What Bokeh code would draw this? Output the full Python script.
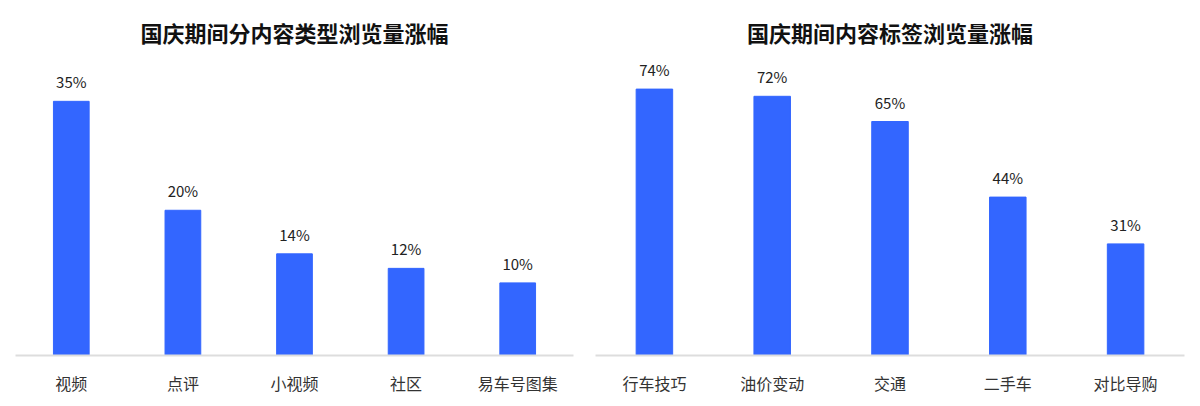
from bokeh.plotting import figure
from bokeh.layouts import row
from bokeh.models import ColumnDataSource, Range1d
from bokeh.core.properties import value
from bokeh.embed import file_html
from bokeh.resources import INLINE

title_left = "国庆期间分内容类型浏览量涨幅"
cats_left = ["视频", "点评", "小视频", "社区", "易车号图集"]
vals_left = [35, 20, 14, 12, 10]

title_right = "国庆期间内容标签浏览量涨幅"
cats_right = ["行车技巧", "油价变动", "交通", "二手车", "对比导购"]
vals_right = [74, 72, 65, 44, 31]

FONT = "Noto Sans CJK SC"
BAR = "#3366FF"


def make(title, cats, vals, ymax, width, bl, br, bw):
    src = ColumnDataSource(dict(x=cats, top=vals, lab=[f"{v}%" for v in vals]))
    p = figure(x_range=cats, y_range=Range1d(0, ymax), width=width, height=403,
               output_backend="svg", toolbar_location=None,
               min_border_left=bl, min_border_right=br, min_border_top=58,
               min_border_bottom=48)
    p.vbar(x="x", top="top", width=bw, source=src, color=BAR)
    p.text(x="x", y="top", text="lab", source=src, y_offset=-9,
           text_align="center", text_baseline="bottom",
           text_font=value(FONT), text_font_size="15px", text_color="#222222")
    p.title.text = title
    p.title.align = "center"
    p.title.text_font = FONT
    p.title.text_font_size = "22px"
    p.title.text_font_style = "bold"
    p.title.text_color = "#111111"
    p.title.standoff = 22
    p.yaxis.visible = False
    p.xgrid.visible = False
    p.ygrid.visible = False
    p.outline_line_color = None
    ax = p.xaxis[0]
    ax.axis_line_color = "#dddddd"
    ax.axis_line_width = 2
    ax.major_tick_line_color = None
    ax.minor_tick_line_color = None
    ax.major_label_standoff = 9
    ax.major_label_text_font = FONT
    ax.major_label_text_font_size = "16px"
    ax.major_label_text_color = "#333333"
    p.x_range.range_padding = 0
    return p


p1 = make(title_left, cats_left, vals_left, 40.9, 593, 15, 20, 0.32)
p2 = make(title_right, cats_right, vals_right, 82.5, 600, 2, 9, 0.31)
p = row(p1, p2)

open("out.html", "w").write(file_html(p, INLINE))
